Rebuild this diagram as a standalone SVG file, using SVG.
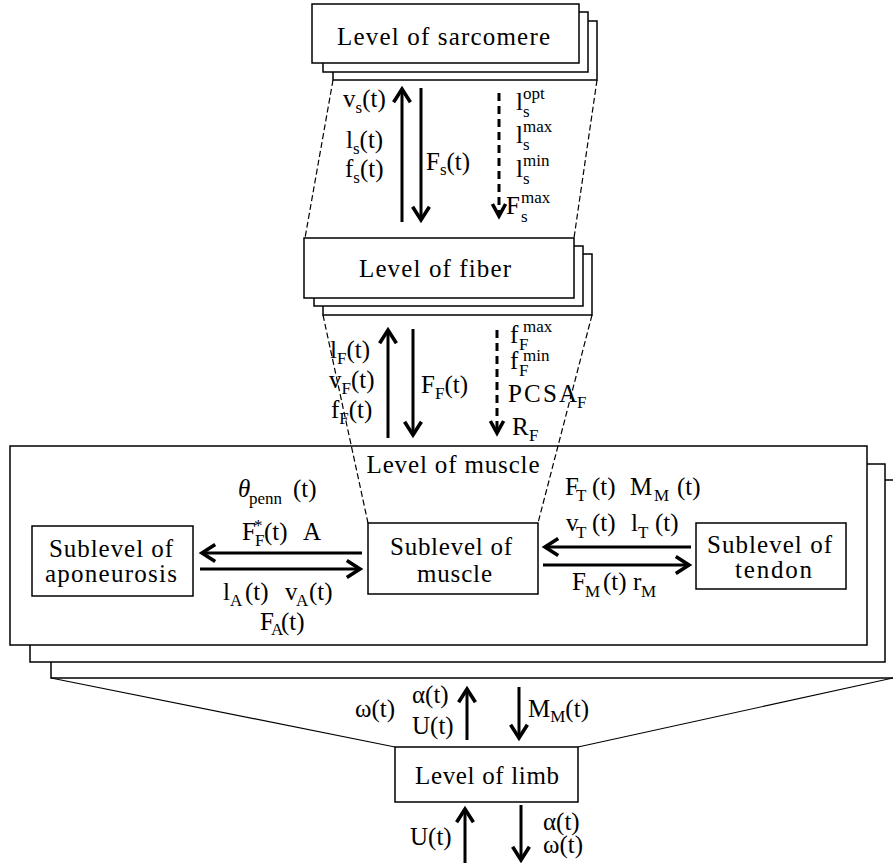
<svg xmlns="http://www.w3.org/2000/svg" width="893" height="863" viewBox="0 0 893 863" font-family="Liberation Serif, serif" font-size="25">
<style>
text{fill:#000}
.t{text-anchor:middle}
.sb{font-size:17px}
.box{fill:#fff;stroke:#000;stroke-width:1.5}
.dash{fill:none;stroke:#000;stroke-width:1.2;stroke-dasharray:6 3}
.solid{fill:none;stroke:#000;stroke-width:1.2}
.ar{fill:none;stroke:#000;stroke-width:3;marker-end:url(#ah)}
.ard{fill:none;stroke:#000;stroke-width:3;stroke-dasharray:8 5;marker-end:url(#ahs)}
.it{font-style:italic}
</style>
<defs>
<marker id="ah" markerUnits="userSpaceOnUse" markerWidth="24" markerHeight="24" viewBox="-14 -10 20 20" refX="0" refY="0" orient="auto">
<path d="M-11,-7 L0,0 L-11,7" fill="none" stroke="#000" stroke-width="3" stroke-dasharray="none"/>
</marker>
<marker id="ahs" markerUnits="userSpaceOnUse" markerWidth="24" markerHeight="24" viewBox="-14 -10 20 20" refX="0" refY="0" orient="auto">
<path d="M-10,-5.5 L0,0 L-10,5.5" fill="none" stroke="#000" stroke-width="3" stroke-dasharray="none"/>
</marker>
</defs>
<rect width="893" height="863" fill="#fff"/>

<g id="muscle">
<rect class="box" x="51" y="480" width="860" height="198"/>
<rect class="box" x="30" y="464" width="855" height="198"/>
<rect class="box" x="10" y="446" width="857" height="199"/>
<text class="t" x="453" y="473" textLength="173" lengthAdjust="spacing">Level of muscle</text>
</g>

<g id="sarcomere">
<rect class="box" x="333" y="21" width="264" height="59"/>
<rect class="box" x="323" y="12" width="265" height="60"/>
<rect class="box" x="312" y="4" width="267" height="59"/>
<text class="t" x="443.5" y="45" textLength="213" lengthAdjust="spacing">Level of sarcomere</text>
</g>

<g id="fiber">
<rect class="box" x="323" y="254" width="269" height="61"/>
<rect class="box" x="314" y="246" width="269" height="60"/>
<rect class="box" x="304" y="238" width="270" height="60"/>
<text class="t" x="435" y="277" textLength="152" lengthAdjust="spacing">Level of fiber</text>
</g>

<g id="connectors">
<path class="dash" d="M333,80 L305,238 M597,80 L574,238"/>
<path class="dash" d="M323,315 L368,523 M592,315 L538,523"/>
<path class="solid" d="M51,678 L395,747 M893,678 L578,747"/>
<path class="ar" d="M402,222 L402,89"/>
<path class="ar" d="M421,88 L421,220"/>
<path class="ard" d="M499,93 L499,216"/>
<path class="ar" d="M388,438 L388,330"/>
<path class="ar" d="M413,329 L413,435"/>
<path class="ard" d="M497,330 L497,433"/>
<path class="ar" d="M362,553 L202,553"/>
<path class="ar" d="M200,569 L360,569"/>
<path class="ar" d="M691,547 L545,547"/>
<path class="ar" d="M543,565 L689,565"/>
<path class="ar" d="M467,740 L467,689"/>
<path class="ar" d="M519,687 L519,738"/>
<path class="ar" d="M465,863 L465,809"/>
<path class="ar" d="M521,805 L521,860"/>
</g>

<g id="sublevel-aponeurosis">
<rect class="box" x="32" y="526" width="161" height="70"/>
<text class="t" x="111" y="557" textLength="124" lengthAdjust="spacing">Sublevel of</text>
<text class="t" x="111" y="582" textLength="132" lengthAdjust="spacing">aponeurosis</text>
</g>
<g id="sublevel-muscle">
<rect class="box" x="368" y="523" width="170" height="71"/>
<text class="t" x="451" y="555" textLength="122" lengthAdjust="spacing">Sublevel of</text>
<text class="t" x="454.5" y="582" textLength="75" lengthAdjust="spacing">muscle</text>
</g>
<g id="sublevel-tendon">
<rect class="box" x="696" y="523" width="150" height="66"/>
<text class="t" x="769.5" y="553" textLength="125" lengthAdjust="spacing">Sublevel of</text>
<text class="t" x="773.5" y="578" textLength="77" lengthAdjust="spacing">tendon</text>
</g>
<g id="limb">
<rect class="box" x="395" y="747" width="183" height="55"/>
<text class="t" x="487" y="784" textLength="144" lengthAdjust="spacing">Level of limb</text>
</g>

<g id="labels">
<text x="343" y="107">v<tspan class="sb" dy="6">s</tspan><tspan dy="-6">(t)</tspan></text>
<text x="346" y="148">l<tspan class="sb" dy="6">s</tspan><tspan dy="-6">(t)</tspan></text>
<text x="345" y="177">f<tspan class="sb" dy="6">s</tspan><tspan dy="-6">(t)</tspan></text>
<text x="426" y="170">F<tspan class="sb" dy="5">s</tspan><tspan dy="-5">(t)</tspan></text>
<text x="516" y="110">l</text><text class="sb" x="523" y="117">s</text><text class="sb" x="523" y="99">opt</text>
<text x="516" y="143">l</text><text class="sb" x="523" y="150">s</text><text class="sb" x="523" y="132">max</text>
<text x="516" y="177">l</text><text class="sb" x="523" y="184">s</text><text class="sb" x="523" y="166">min</text>
<text x="506" y="214">F</text><text class="sb" x="521" y="222">s</text><text class="sb" x="521" y="203">max</text>
<text x="330" y="358">l<tspan class="sb" dy="6">F</tspan><tspan dy="-6">(t)</tspan></text>
<text x="329" y="388">v<tspan class="sb" dy="6">F</tspan><tspan dy="-6">(t)</tspan></text>
<text x="331" y="418">f<tspan class="sb" dy="6">F</tspan><tspan dy="-6">(t)</tspan></text>
<text x="421" y="393">F<tspan class="sb" dy="6">F</tspan><tspan dy="-6">(t)</tspan></text>
<text x="510" y="343">f</text><text class="sb" x="519" y="350">F</text><text class="sb" x="523" y="332">max</text>
<text x="510" y="369">f</text><text class="sb" x="519" y="376">F</text><text class="sb" x="523" y="361">min</text>
<text x="508" y="402" textLength="69" lengthAdjust="spacing">PCSA</text><text class="sb" x="577" y="408">F</text>
<text x="512" y="435">R</text><text class="sb" x="529" y="441">F</text>
<text x="238" y="497"><tspan class="it">θ</tspan><tspan class="sb" x="249" dy="7">penn</tspan><tspan x="293" dy="-7">(t)</tspan></text>
<text x="242" y="540">F</text><text class="sb" x="254" y="531">*</text><text class="sb" x="255" y="546">F</text><text x="264" y="540">(t)</text><text x="303" y="540">A</text>
<text x="223" y="600">l<tspan class="sb" x="230" dy="6">A</tspan><tspan x="245" dy="-6">(t)</tspan><tspan x="285">v</tspan><tspan class="sb" x="296" dy="6">A</tspan><tspan x="309" dy="-6">(t)</tspan></text>
<text x="260" y="630">F<tspan class="sb" x="271" dy="5">A</tspan><tspan x="281" dy="-5">(t)</tspan></text>
<text x="565" y="495">F<tspan class="sb" x="576" dy="6">T</tspan><tspan x="592" dy="-6">(t)</tspan><tspan x="630">M</tspan><tspan class="sb" x="654" dy="6">M</tspan><tspan x="677" dy="-6">(t)</tspan></text>
<text x="566" y="531">v<tspan class="sb" x="576" dy="7">T</tspan><tspan x="592" dy="-7">(t)</tspan><tspan x="631">l</tspan><tspan class="sb" x="638" dy="7">T</tspan><tspan x="655" dy="-7">(t)</tspan></text>
<text x="572" y="590">F<tspan class="sb" x="585" dy="7">M</tspan><tspan x="603" dy="-7">(t)</tspan><tspan x="633">r</tspan><tspan class="sb" x="641" dy="7">M</tspan></text>
<text x="355" y="717">ω(t)</text>
<text x="412" y="703">α(t)</text>
<text x="412" y="734">U(t)</text>
<text x="528" y="717">M<tspan class="sb" dy="5">M</tspan><tspan dy="-5">(t)</tspan></text>
<text x="410" y="845">U(t)</text>
<text x="543" y="830">α(t)</text>
<text x="543" y="853">ω(t)</text>
</g>
</svg>
